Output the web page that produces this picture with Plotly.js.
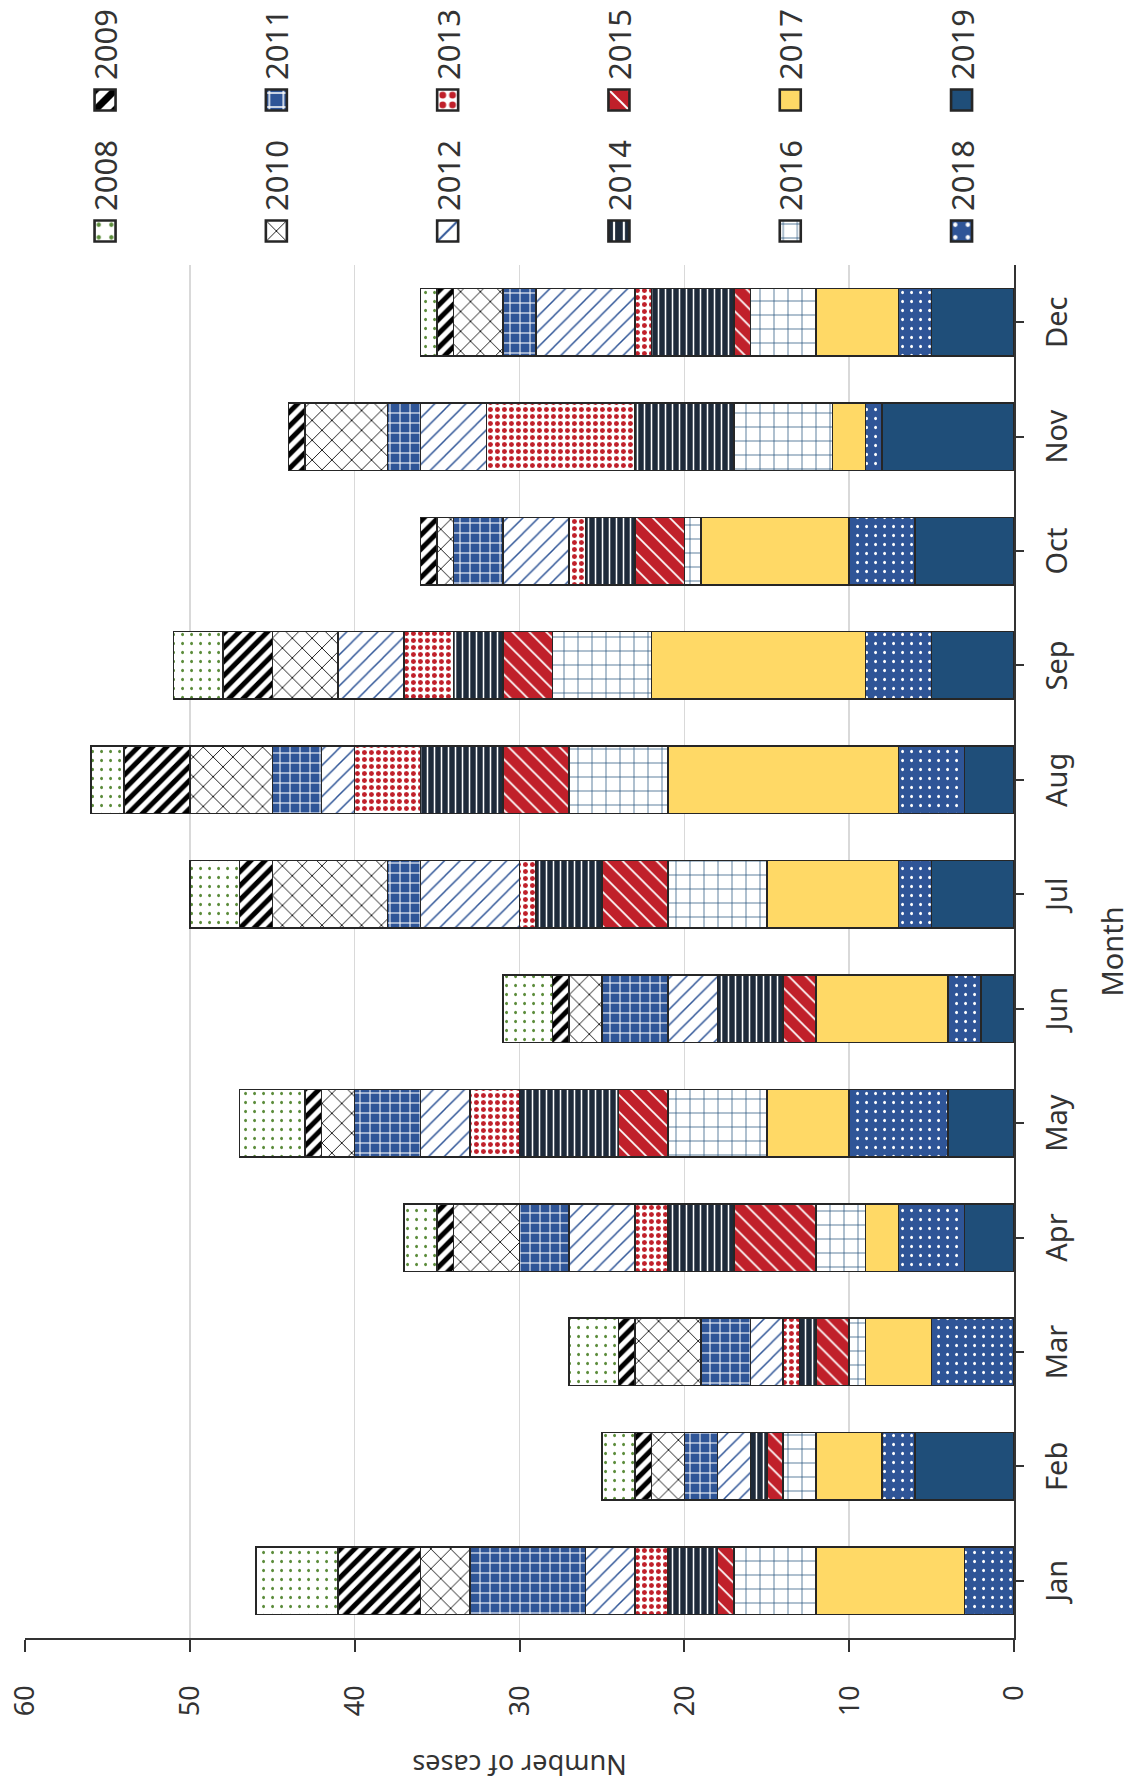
<!DOCTYPE html>
<html>
<head>
<meta charset="utf-8">
<script src="https://cdn.plot.ly/plotly-3.0.1.min.js"></script>
<style>
html, body { margin: 0; padding: 0; background: #ffffff; overflow: hidden; width: 1131px; height: 1784px; }
#wrap { position: absolute; left: 0; top: 0; width: 1784px; height: 1131px;
        transform-origin: 0 0; transform: translate(0px, 1784px) rotate(-90deg); }
</style>
</head>
<body>
<div id="wrap"><div id="chart"></div></div>
<script>
// ---- data ----
const months = ['Jan','Feb','Mar','Apr','May','Jun','Jul','Aug','Sep','Oct','Nov','Dec'];
const years = ['2019','2018','2017','2016','2015','2014','2013','2012','2011','2010','2009','2008'];

const cases2008 = [5, 2, 3, 2, 4, 3, 3, 2, 3, 0, 0, 1];
const cases2009 = [5, 1, 1, 1, 1, 1, 2, 4, 3, 1, 1, 1];
const cases2010 = [3, 2, 4, 4, 2, 2, 7, 5, 4, 1, 5, 3];
const cases2011 = [7, 2, 3, 3, 4, 4, 2, 3, 0, 3, 2, 2];
const cases2012 = [3, 2, 2, 4, 3, 3, 6, 2, 4, 4, 4, 6];
const cases2013 = [2, 0, 1, 2, 3, 0, 1, 4, 3, 1, 9, 1];
const cases2014 = [3, 1, 1, 4, 6, 4, 4, 5, 3, 3, 6, 5];
const cases2015 = [1, 1, 2, 5, 3, 2, 4, 4, 3, 3, 0, 1];
const cases2016 = [5, 2, 1, 3, 6, 0, 6, 6, 6, 1, 6, 4];
const cases2017 = [9, 4, 4, 2, 5, 8, 8, 14, 13, 9, 2, 5];
const cases2018 = [3, 2, 5, 4, 6, 2, 2, 4, 4, 4, 1, 2];
const cases2019 = [0, 6, 0, 3, 4, 2, 5, 3, 5, 6, 8, 5];

const seriesByYear = {
  '2008': cases2008, '2009': cases2009, '2010': cases2010, '2011': cases2011,
  '2012': cases2012, '2013': cases2013, '2014': cases2014, '2015': cases2015,
  '2016': cases2016, '2017': cases2017, '2018': cases2018, '2019': cases2019
};

// ---- styles (patterns given in the unrotated orientation) ----
const BLUE = '#2F5597', DARKBLUE = '#1F4E79', RED = '#C0202A', NAVY = '#1E2A3A', YELLOW = '#FFD966';
const styles = {
  '2008': {color: '#ffffff', pattern: {shape: '.', fgcolor: '#5B8C3A', bgcolor: '#ffffff', size: 9, solidity: 0.1, fillmode: 'replace'}},
  '2009': {color: '#ffffff', pattern: {shape: '\\', fgcolor: '#000000', bgcolor: '#ffffff', size: 10, solidity: 0.5, fillmode: 'replace'}},
  '2010': {color: '#ffffff', pattern: {shape: 'x', fgcolor: '#000000', bgcolor: '#ffffff', size: 14, solidity: 0.12, fillmode: 'replace'}},
  '2011': {color: BLUE, pattern: {shape: '+', fgcolor: '#ffffff', bgcolor: BLUE, size: 10, solidity: 0.2, fillmode: 'replace'}},
  '2012': {color: '#ffffff', pattern: {shape: '\\', fgcolor: BLUE, bgcolor: '#ffffff', size: 11, solidity: 0.14, fillmode: 'replace'}},
  '2013': {color: '#ffffff', pattern: {shape: '.', fgcolor: RED, bgcolor: '#ffffff', size: 7, solidity: 0.38, fillmode: 'replace'}},
  '2014': {color: NAVY, pattern: {shape: '-', fgcolor: '#ffffff', bgcolor: NAVY, size: 7, solidity: 0.22, fillmode: 'replace'}},
  '2015': {color: RED, pattern: {shape: '/', fgcolor: '#ffffff', bgcolor: RED, size: 12, solidity: 0.14, fillmode: 'replace'}},
  '2016': {color: '#ffffff', pattern: {shape: '+', fgcolor: DARKBLUE, bgcolor: '#ffffff', size: 14, solidity: 0.1, fillmode: 'replace'}},
  '2017': {color: YELLOW},
  '2018': {color: BLUE, pattern: {shape: '.', fgcolor: '#ffffff', bgcolor: BLUE, size: 9, solidity: 0.1, fillmode: 'replace'}},
  '2019': {color: DARKBLUE}
};

const FONT = '"Noto Sans", "Open Sans", sans-serif';
const TXT = '#333333';

const traces = years.map(function (yr) {
  const st = styles[yr];
  const marker = {color: st.color, line: {color: '#262626', width: 1.5}};
  if (st.pattern) marker.pattern = st.pattern;
  const n = parseInt(yr, 10);
  return {
    type: 'bar',
    name: yr,
    x: months,
    y: seriesByYear[yr],
    marker: marker,
    legend: (n % 2 === 0) ? 'legend' : 'legend2',
    legendgroup: 'g' + yr,
    legendrank: n,
    hoverinfo: 'x+y+name'
  };
});

const legendCommon = {
  xanchor: 'left', yanchor: 'top',
  font: {family: FONT, size: 31, color: TXT},
  bgcolor: 'rgba(0,0,0,0)',
  traceorder: 'grouped',
  tracegroupgap: 128,
  itemclick: false, itemdoubleclick: false
};

const layout = {
  width: 1784, height: 1131,
  margin: {l: 146, r: 265, t: 25, b: 117, autoexpand: false},
  paper_bgcolor: '#ffffff', plot_bgcolor: '#ffffff',
  barmode: 'stack', bargap: 0.41,
  font: {family: FONT, color: TXT},
  xaxis: {
    type: 'category', automargin: false,
    showline: true, linecolor: '#333333', linewidth: 2,
    ticks: 'outside', ticklen: 8, tickwidth: 2, tickcolor: '#333333',
    tickfont: {family: FONT, size: 29, color: TXT},
    ticklabelstandoff: 8,
    showgrid: false,
    title: {text: 'Month', font: {family: FONT, size: 29, color: TXT}, standoff: 30}
  },
  yaxis: {
    range: [0, 60], dtick: 10, automargin: false,
    showline: true, linecolor: '#333333', linewidth: 2,
    ticks: 'outside', ticklen: 12, tickwidth: 2, tickcolor: '#333333',
    tickfont: {family: FONT, size: 27, color: TXT},
    ticklabelstandoff: 28,
    showgrid: true, gridcolor: '#d9d9d9', gridwidth: 1.5,
    zeroline: false,
    title: {text: 'Number of cases', font: {family: FONT, size: 27, color: TXT}, standoff: 31}
  },
  legend: Object.assign({x: 1.0102, y: 0.946}, legendCommon),
  legend2: Object.assign({x: 1.1056, y: 0.946}, legendCommon),
  showlegend: true
};

Plotly.newPlot('chart', traces, layout, {displayModeBar: false, staticPlot: true}).then(function (gd) {
  // enlarge the legend swatches (keep Plotly's own positioning transform)
  gd.querySelectorAll('.legendpoints path').forEach(function (p) {
    const t = p.getAttribute('transform') || '';
    p.setAttribute('transform', t + ' scale(1.75)');
  });
});
</script>
</body>
</html>
